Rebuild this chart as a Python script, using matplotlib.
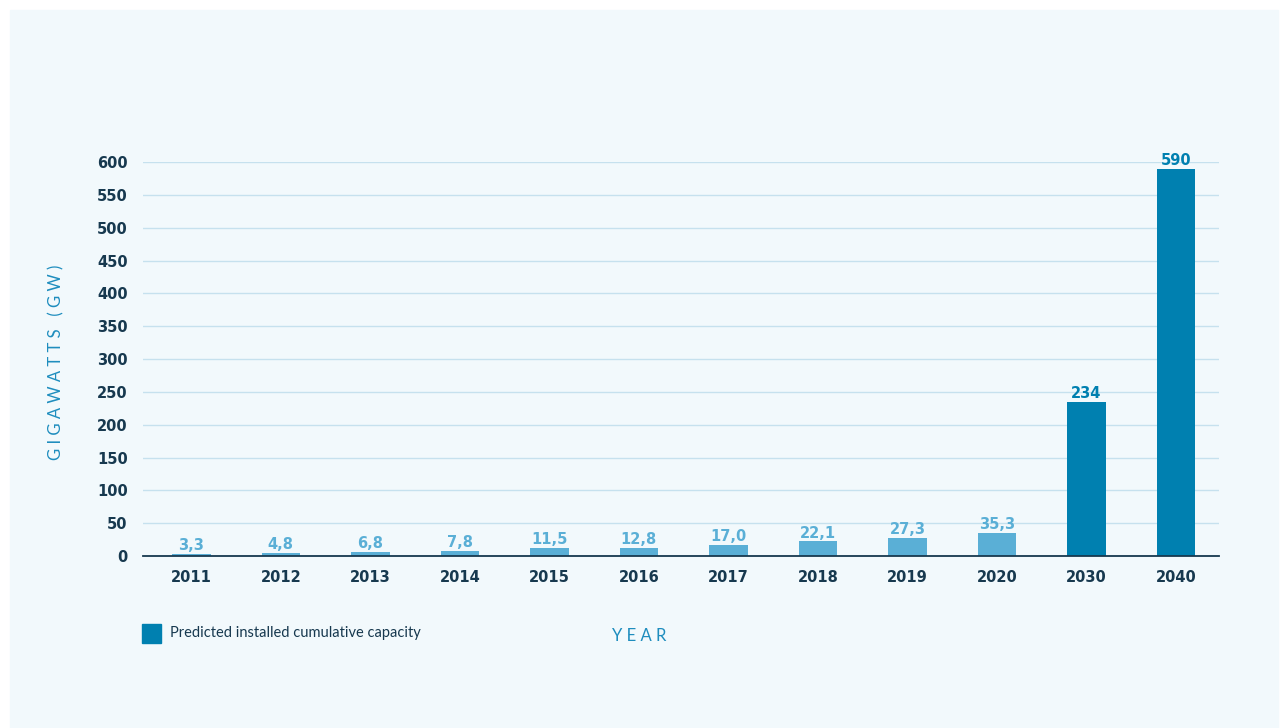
import matplotlib.pyplot as plt
from matplotlib.patches import Rectangle

YEARS = ["2011", "2012", "2013", "2014", "2015", "2016", "2017", "2018",
         "2019", "2020", "2030", "2040"]
CAPACITY = [3.3, 4.8, 6.8, 7.8, 11.5, 12.8, 17.0, 22.1, 27.3, 35.3, 234, 590]
LABELS = ["3,3", "4,8", "6,8", "7,8", "11,5", "12,8", "17,0", "22,1",
          "27,3", "35,3", "234", "590"]
PREDICTED = [False] * 10 + [True, True]
Y_TICKS = list(range(0, 601, 50))

LIGHT = "#5AAFD6"
DARK = "#0080B0"
NAVY = "#17394F"
PANEL = "#F2F9FC"
GRID = "#C6E1EE"
NUM_FONT = "DejaVu Sans"  # wide bold numerals, close to the original face

plt.rcParams["font.family"] = ["Lato", "DejaVu Sans"]

fig = plt.figure(figsize=(12.85, 7.28), dpi=100)
W, H = 1285, 728
# light panel behind everything
fig.patches.append(Rectangle((10 / W, 0), 1268 / W, 718 / H,
                             transform=fig.transFigure, color=PANEL, zorder=-5))

ax = fig.add_axes([143 / W, (H - 556) / H, (1219 - 143) / W, (556 - 162) / H])
ax.set_facecolor("none")

colors = [DARK if p else LIGHT for p in PREDICTED]
x = range(len(YEARS))
bars = ax.bar(x, CAPACITY, width=0.43, color=colors, zorder=3)

for b, lab, c in zip(bars, LABELS, colors):
    ax.text(b.get_x() + b.get_width() / 2, b.get_height() + 1.5, lab,
            ha="center", va="bottom", fontsize=10.5, fontweight="bold",
            family=NUM_FONT, color=c, zorder=4)

ax.set_xlim(-0.54, 11.48)
ax.set_ylim(0, 600)
ax.set_yticks(Y_TICKS)
ax.set_xticks(list(x))
ax.set_xticklabels(YEARS)
ax.grid(axis="y", color=GRID, linewidth=1, zorder=0)
ax.tick_params(length=0, labelsize=10.5, labelcolor=NAVY)
ax.tick_params(axis="y", pad=11)
ax.tick_params(axis="x", pad=10)
for lab in ax.get_xticklabels() + ax.get_yticklabels():
    lab.set_fontweight("bold")
    lab.set_family(NUM_FONT)

for s in ["top", "right", "left"]:
    ax.spines[s].set_visible(False)
ax.spines["bottom"].set_color(NAVY)
ax.spines["bottom"].set_linewidth(1.3)
ax.spines["bottom"].set_zorder(5)

fig.text(56 / W, 1 - 362 / H, "G I G A W A T T S   ( G W )", rotation=90,
         ha="center", va="center", fontsize=12, color="#1E8DBE")
fig.text(639 / W, 1 - 636 / H, "Y E A R", ha="center", va="center",
         fontsize=12, color="#1E8DBE")

fig.patches.append(Rectangle((142 / W, 1 - 643 / H), 19 / W, 19 / H,
                             transform=fig.transFigure, color=DARK, zorder=2))
fig.text(170 / W, 1 - 633 / H, "Predicted installed cumulative capacity",
         ha="left", va="center", fontsize=10.5, color=NAVY)

fig.savefig("out.png", dpi=100)
